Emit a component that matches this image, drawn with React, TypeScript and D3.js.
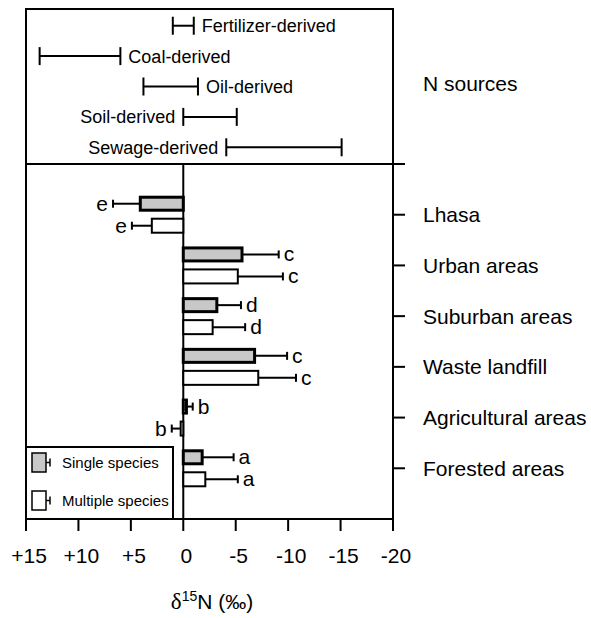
import { useEffect, useRef } from "react";
import * as d3 from "d3";

const sources = ["Fertilizer-derived", "Coal-derived", "Oil-derived", "Soil-derived", "Sewage-derived"];
const sourceHigh = [1.0, 13.7, 3.8, 0, -4.1];
const sourceLow = [-1.0, 6.0, -1.4, -5.1, -15.1];
const sourceLabelSide = ["right", "right", "right", "left", "left"];

const categories = ["Lhasa", "Urban areas", "Suburban areas", "Waste landfill", "Agricultural areas", "Forested areas"];
const singleMean = [4.1, -5.6, -3.2, -6.8, -0.3, -1.8];
const singleErr = [2.6, 3.5, 2.3, 3.1, 0.6, 3.0];
const singleLetters = ["e", "c", "d", "c", "b", "a"];
const multiMean = [3.0, -5.2, -2.8, -7.15, 0.25, -2.1];
const multiErr = [1.9, 4.3, 3.1, 3.6, 0.85, 3.1];
const multiLetters = ["e", "c", "d", "c", "b", "a"];

const xTicks = [15, 10, 5, 0, -5, -10, -15, -20];
const xTickLabels = ["+15", "+10", "+5", "0", "-5", "-10", "-15", "-20"];

const FONT = "'Liberation Sans', Arial, Helvetica, sans-serif";

export default function App() {
  const svgRef = useRef(null);

  useEffect(() => {
    if (!svgRef.current) return;
    const width = 591;
    const height = 618;
    const left = 26;
    const right = 393;
    const top = 9;
    const divider = 164;
    const bottom = 519;

    const svg = d3.select(svgRef.current);
    svg.selectAll("*").remove();
    svg.attr("width", width).attr("height", height).attr("viewBox", `0 0 ${width} ${height}`);

    const x = d3.scaleLinear().domain([15, -20]).range([left, right]);
    const ySrc = d3.scalePoint().domain(sources).range([top, divider]).padding(0.55);
    const y = d3.scalePoint().domain(categories).range([divider, bottom]).padding(1);

    // frame
    svg
      .append("rect")
      .attr("x", left)
      .attr("y", top)
      .attr("width", right - left)
      .attr("height", bottom - top)
      .attr("fill", "none")
      .attr("stroke", "black")
      .attr("stroke-width", 2);

    svg
      .append("line")
      .attr("x1", left)
      .attr("x2", right + 12)
      .attr("y1", divider)
      .attr("y2", divider)
      .attr("stroke", "black")
      .attr("stroke-width", 2);

    svg
      .append("line")
      .attr("x1", x(0))
      .attr("x2", x(0))
      .attr("y1", divider)
      .attr("y2", bottom)
      .attr("stroke", "black")
      .attr("stroke-width", 2);

    // N source ranges
    sources.forEach((s, i) => {
      const yy = ySrc(s)!;
      const x1 = x(sourceHigh[i]);
      const x2 = x(sourceLow[i]);
      const g = svg.append("g").attr("stroke", "black").attr("stroke-width", 2);
      g.append("line").attr("x1", x1).attr("x2", x2).attr("y1", yy).attr("y2", yy);
      g.append("line").attr("x1", x1).attr("x2", x1).attr("y1", yy - 9).attr("y2", yy + 9);
      g.append("line").attr("x1", x2).attr("x2", x2).attr("y1", yy - 9).attr("y2", yy + 9);
      const onRight = sourceLabelSide[i] === "right";
      svg
        .append("text")
        .attr("x", onRight ? Math.max(x1, x2) + 8 : Math.min(x1, x2) - 8)
        .attr("y", yy)
        .attr("dy", "0.36em")
        .attr("text-anchor", onRight ? "start" : "end")
        .attr("font-family", FONT)
        .attr("font-size", "18px")
        .text(s);
    });

    svg
      .append("text")
      .attr("x", 423)
      .attr("y", 83)
      .attr("dy", "0.36em")
      .attr("font-family", FONT)
      .attr("font-size", "21px")
      .text("N sources");

    // bars
    const barH = 16;
    const gap = 3;
    const drawBar = (mean, err, letter, yTop, fill, sw) => {
      const x0 = x(0);
      const xm = x(mean);
      const xe = x(mean > 0 ? mean + err : mean - err);
      const cy = yTop + barH / 2;
      svg
        .append("line")
        .attr("x1", xm)
        .attr("x2", xe)
        .attr("y1", cy)
        .attr("y2", cy)
        .attr("stroke", "black")
        .attr("stroke-width", 2);
      svg
        .append("line")
        .attr("x1", xe)
        .attr("x2", xe)
        .attr("y1", cy - 4)
        .attr("y2", cy + 4)
        .attr("stroke", "black")
        .attr("stroke-width", 2);
      svg
        .append("rect")
        .attr("x", Math.min(x0, xm))
        .attr("y", yTop + sw / 2)
        .attr("width", Math.abs(xm - x0))
        .attr("height", barH - sw)
        .attr("fill", fill)
        .attr("stroke", "black")
        .attr("stroke-width", sw);
      svg
        .append("text")
        .attr("x", mean > 0 ? xe - 5 : xe + 5)
        .attr("y", cy)
        .attr("dy", "0.33em")
        .attr("text-anchor", mean > 0 ? "end" : "start")
        .attr("font-family", FONT)
        .attr("font-size", "21px")
        .text(letter);
    };

    categories.forEach((c, i) => {
      const cy = y(c)!;
      drawBar(singleMean[i], singleErr[i], singleLetters[i], cy - gap - barH, "#c8c8c8", 3);
      drawBar(multiMean[i], multiErr[i], multiLetters[i], cy + gap, "white", 2);

      svg
        .append("line")
        .attr("x1", right)
        .attr("x2", right + 12)
        .attr("y1", cy)
        .attr("y2", cy)
        .attr("stroke", "black")
        .attr("stroke-width", 2);
      svg
        .append("text")
        .attr("x", 423)
        .attr("y", cy)
        .attr("dy", "0.36em")
        .attr("font-family", FONT)
        .attr("font-size", "21px")
        .text(c);
    });

    // x axis
    xTicks.forEach((t, i) => {
      svg
        .append("line")
        .attr("x1", x(t))
        .attr("x2", x(t))
        .attr("y1", bottom)
        .attr("y2", bottom + 12)
        .attr("stroke", "black")
        .attr("stroke-width", 2);
      svg
        .append("text")
        .attr("x", x(t) + 3)
        .attr("y", 563)
        .attr("text-anchor", "middle")
        .attr("font-family", FONT)
        .attr("font-size", "21px")
        .text(xTickLabels[i]);
    });

    const title = svg
      .append("text")
      .attr("x", 212)
      .attr("y", 609)
      .attr("text-anchor", "middle")
      .attr("font-family", FONT)
      .attr("font-size", "21px");
    title.append("tspan").attr("font-family", "'Liberation Serif', 'DejaVu Serif', serif").attr("font-size", "23px").text("δ");
    title.append("tspan").attr("font-size", "14px").attr("dy", "-8").text("15");
    title.append("tspan").attr("dy", "8").text("N (‰)");

    // legend
    svg
      .append("rect")
      .attr("x", left)
      .attr("y", 447)
      .attr("width", 173 - left)
      .attr("height", bottom - 447)
      .attr("fill", "white")
      .attr("stroke", "black")
      .attr("stroke-width", 2);

    const legendItems = [
      { label: "Single species", fill: "#c8c8c8", y: 453 },
      { label: "Multiple species", fill: "white", y: 491 },
    ];
    legendItems.forEach((d) => {
      svg
        .append("rect")
        .attr("x", 32)
        .attr("y", d.y)
        .attr("width", 14)
        .attr("height", 19)
        .attr("fill", d.fill)
        .attr("stroke", "black")
        .attr("stroke-width", 1.5);
      svg
        .append("line")
        .attr("x1", 46)
        .attr("x2", 50)
        .attr("y1", d.y + 9.5)
        .attr("y2", d.y + 9.5)
        .attr("stroke", "black")
        .attr("stroke-width", 1.5);
      svg
        .append("line")
        .attr("x1", 50)
        .attr("x2", 50)
        .attr("y1", d.y + 5.5)
        .attr("y2", d.y + 13.5)
        .attr("stroke", "black")
        .attr("stroke-width", 1.5);
      svg
        .append("text")
        .attr("x", 62)
        .attr("y", d.y + 9.5)
        .attr("dy", "0.36em")
        .attr("font-family", FONT)
        .attr("font-size", "15px")
        .text(d.label);
    });
  }, []);

  return <svg ref={svgRef} style={{ position: "absolute", left: 0, top: 0, background: "white" }} />;
}
